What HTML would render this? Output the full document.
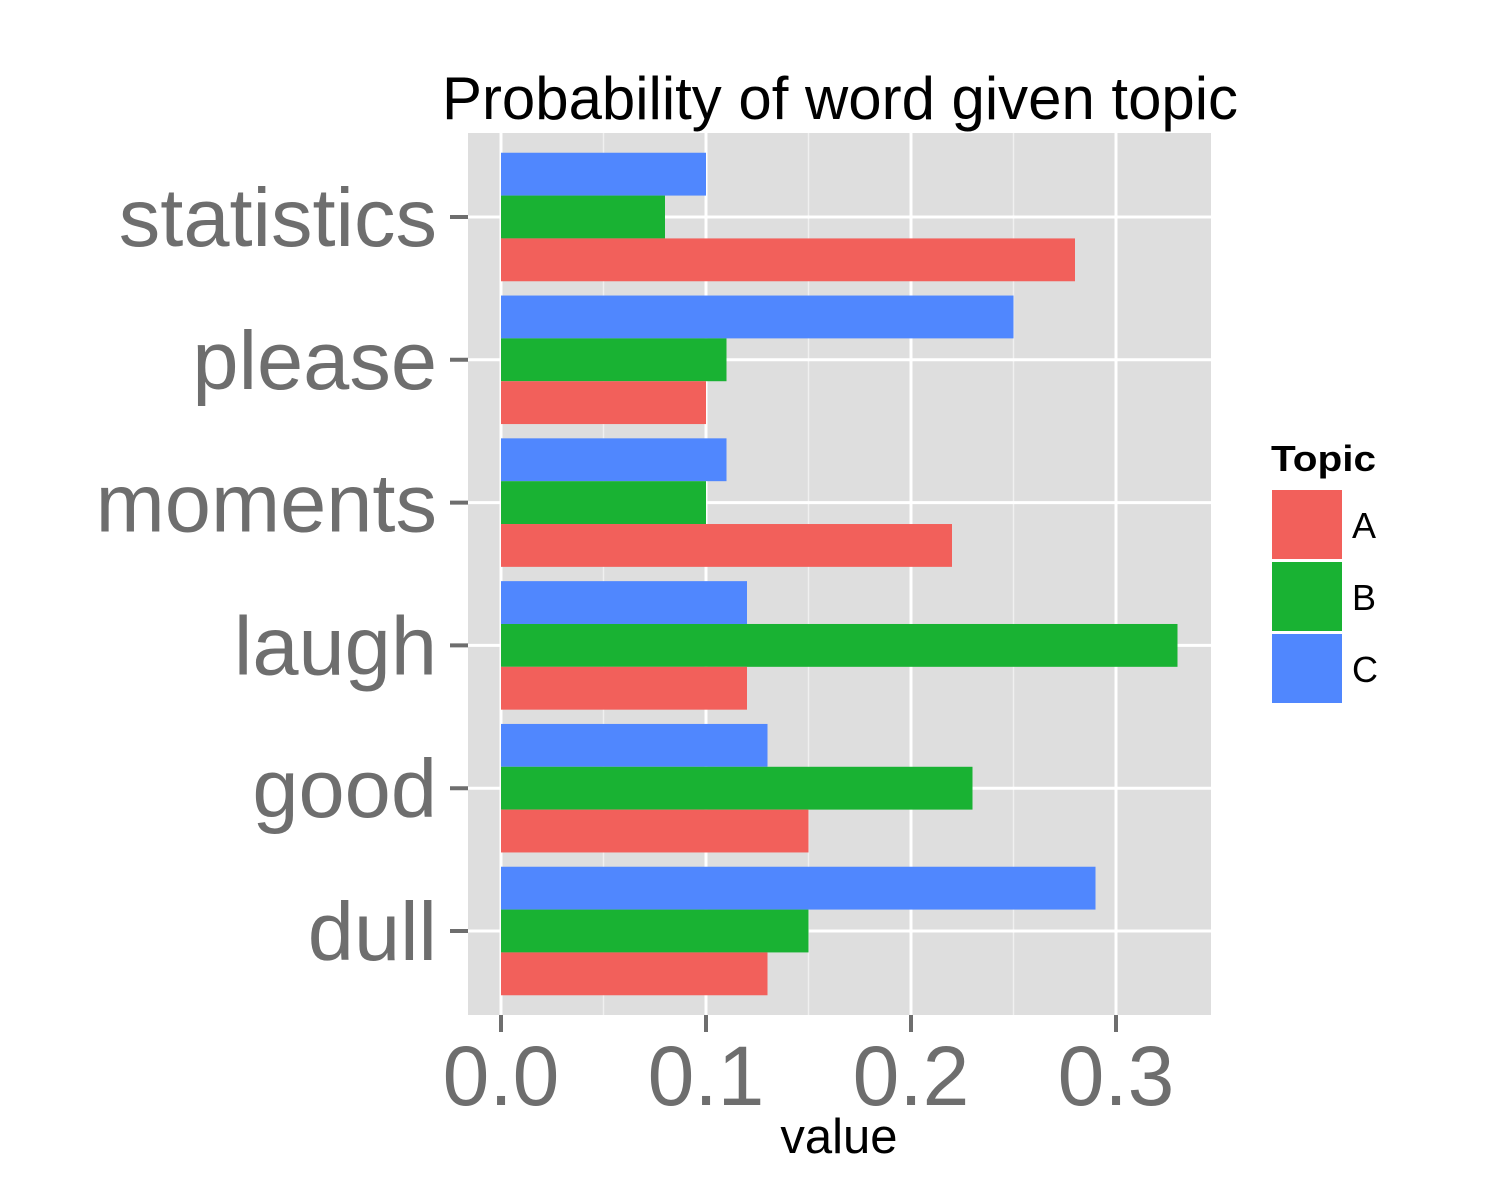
<!DOCTYPE html>
<html><head><meta charset="utf-8"><style>
html,body{margin:0;padding:0;background:#fff}
svg{display:block}
text{font-family:"Liberation Sans",Arial,sans-serif}
</style></head><body>
<svg id="chart" width="1500" height="1200" xmlns="http://www.w3.org/2000/svg">
<text x="840" y="119" font-size="60" text-anchor="middle" fill="#000" textLength="796" lengthAdjust="spacingAndGlyphs">Probability of word given topic</text>
<rect x="468" y="133" width="743" height="882" fill="#dedede"/>
<g id="grid"></g>
<g id="bars"></g>
<g id="axes"></g>
<text x="839" y="1153" font-size="49" text-anchor="middle" fill="#000">value</text>
<g>
<text x="1271" y="471" font-size="36" font-weight="bold" fill="#000" textLength="105" lengthAdjust="spacingAndGlyphs">Topic</text>
<rect x="1271" y="489" width="72" height="71" fill="#f2605b" stroke="#fff" stroke-width="2"/>
<rect x="1271" y="561" width="72" height="71" fill="#19b233" stroke="#fff" stroke-width="2"/>
<rect x="1271" y="633" width="72" height="71" fill="#5087fe" stroke="#fff" stroke-width="2"/>
<text x="1352" y="538" font-size="36" fill="#000">A</text>
<text x="1352" y="610" font-size="36" fill="#000">B</text>
<text x="1352" y="682" font-size="36" fill="#000">C</text>
</g>
</svg>
<script>
const categories = ["statistics","please","moments","laugh","good","dull"];
const seriesA = [0.28,0.10,0.22,0.12,0.15,0.13];
const seriesB = [0.08,0.11,0.10,0.33,0.23,0.15];
const seriesC = [0.10,0.25,0.11,0.12,0.13,0.29];
const xTicks = [0.0,0.1,0.2,0.3];
const xTickLabels = ["0.0","0.1","0.2","0.3"];
const xMinor = [0.05,0.15,0.25];

const NS="http://www.w3.org/2000/svg";
const x0=501, xScale=2050, panelL=468, panelR=1211, panelT=133, panelB=1015;
const xPos=v=>x0+v*xScale;
const band=142.8;
const yCenter=i=>217+i*band;
function mk(tag,attrs,parent){const e=document.createElementNS(NS,tag);for(const k in attrs)e.setAttribute(k,attrs[k]);parent.appendChild(e);return e;}
const grid=document.getElementById('grid'),bars=document.getElementById('bars'),axes=document.getElementById('axes');
xMinor.forEach(v=>{const l=mk('line',{x1:xPos(v),x2:xPos(v),y1:panelT,y2:panelB,stroke:'#f0f0f0','stroke-width':1.5},grid);

});
xTicks.forEach(v=>{const l=mk('line',{x1:xPos(v),x2:xPos(v),y1:panelT,y2:panelB,stroke:'#fff','stroke-width':3},grid);

});
categories.forEach((c,i)=>{const l=mk('line',{x1:panelL,x2:panelR,y1:yCenter(i),y2:yCenter(i),stroke:'#fff','stroke-width':3},grid);

});
const bw=band*0.9/3;
const series=[[seriesC,'#5087fe','c'],[seriesB,'#19b233','b'],[seriesA,'#f2605b','a']];
categories.forEach((c,i)=>{
  const top=yCenter(i)-band*0.45;
  series.forEach((s,j)=>{
    const r=mk('rect',{x:xPos(0),y:top+j*bw,width:xPos(s[0][i])-xPos(0),height:bw,fill:s[1]},bars);
    
    
  });
  const t=mk('line',{x1:450,x2:468,y1:yCenter(i),y2:yCenter(i),stroke:'#6e6e6e','stroke-width':4},axes);
  
  
  const lb=mk('text',{x:437,y:yCenter(i)+29,'font-size':83,'text-anchor':'end',fill:'#6e6e6e'},axes);
  lb.textContent=c;
  
  
});
xTicks.forEach((v,i)=>{
  const t=mk('line',{x1:xPos(v),x2:xPos(v),y1:panelB,y2:panelB+17,stroke:'#6e6e6e','stroke-width':4},axes);
  
  
  const lb=mk('text',{x:xPos(v),y:1105,'font-size':84,'text-anchor':'middle',fill:'#6e6e6e'},axes);
  lb.textContent=xTickLabels[i];
  
  
});
</script>
</body></html>
